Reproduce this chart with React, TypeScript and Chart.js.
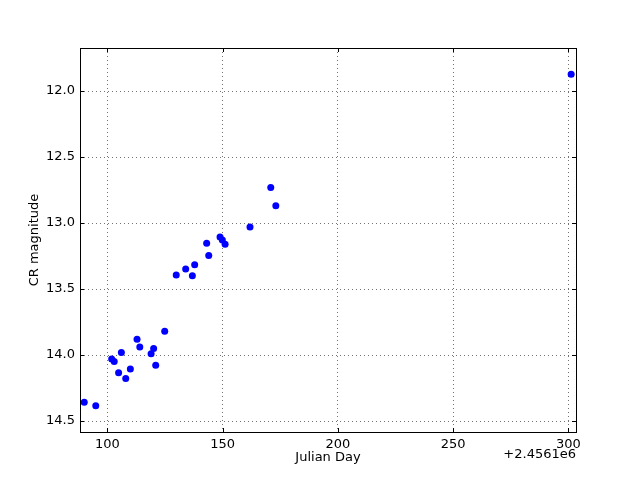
import React, { useEffect, useRef } from "react";
import { Chart, registerables } from "chart.js";

Chart.register(...registerables);

// Julian Day minus offset (2456100)
const jdOffsetLabel = "+2.4561e6";
const julianDay = [
  90.0, 95.0, 101.9, 103.0, 104.9, 106.1, 108.0, 110.0, 112.9, 114.1, 119.0, 120.1, 121.0, 124.9,
  129.9, 134.0, 136.9, 137.9, 143.1, 144.0, 148.9, 149.9, 151.1, 161.9, 170.9, 173.1, 301.2,
];
const crMagnitude = [
  14.358, 14.384, 14.03, 14.048, 14.134, 13.98, 14.177, 14.106, 13.88, 13.94, 13.99, 13.95, 14.078, 13.82,
  13.394, 13.348, 13.4, 13.316, 13.154, 13.245, 13.106, 13.129, 13.161, 13.03, 12.73, 12.869, 11.873,
];
const xTicks = [100, 150, 200, 250, 300];
const yTicks = [12.0, 12.5, 13.0, 13.5, 14.0, 14.5];

const FONT = "DejaVu Sans";

const framePlugin = {
  id: "mplFrame",
  afterDraw(chart: any) {
    const { ctx, chartArea } = chart;
    const { left, right, top, bottom } = chartArea;
    const xs = chart.scales.x;
    const ys = chart.scales.y;
    ctx.save();
    ctx.strokeStyle = "#000";
    ctx.lineWidth = 1;
    // inward ticks
    ctx.beginPath();
    for (const t of xTicks) {
      const px = Math.round(xs.getPixelForValue(t)) + 0.5;
      ctx.moveTo(px, bottom);
      ctx.lineTo(px, bottom - 4);
      ctx.moveTo(px, top);
      ctx.lineTo(px, top + 4);
    }
    for (const t of yTicks) {
      const py = Math.round(ys.getPixelForValue(t)) + 0.5;
      ctx.moveTo(left, py);
      ctx.lineTo(left + 4, py);
      ctx.moveTo(right, py);
      ctx.lineTo(right - 4, py);
    }
    ctx.stroke();
    ctx.strokeRect(Math.round(left) + 0.5, Math.round(top) + 0.5, Math.round(right - left), Math.round(bottom - top));
    // offset text
    ctx.fillStyle = "#000";
    ctx.font = `13px "${FONT}"`;
    ctx.textAlign = "right";
    ctx.textBaseline = "middle";
    ctx.fillText(jdOffsetLabel, right, bottom + 23);
    ctx.restore();
  },
};

export default function App() {
  const ref = useRef<HTMLCanvasElement | null>(null);
  useEffect(() => {
    document.body.style.margin = "0";
    const chart = new Chart(ref.current!, {
      type: "scatter",
      data: {
        datasets: [
          {
            data: julianDay.map((x, i) => ({ x, y: crMagnitude[i] })),
            backgroundColor: "#0000ff",
            borderColor: "#0000ff",
            borderWidth: 0,
            pointRadius: 3.5,
          },
        ],
      },
      options: {
        animation: false,
        responsive: false,
        devicePixelRatio: 1,
        layout: { padding: { top: 48, right: 64, left: 0, bottom: 0 } },
        plugins: { legend: { display: false }, tooltip: { enabled: false } },
        scales: {
          x: {
            type: "linear",
            min: 88.16,
            max: 303.3,
            afterBuildTicks: (s: any) => {
              s.ticks = xTicks.map((v) => ({ value: v }));
            },
            afterFit: (s: any) => {
              s.height = 48;
            },
            border: { display: false },
            grid: { color: "rgba(0,0,0,0.55)", lineWidth: 1, drawTicks: false, borderDash: [1, 3] } as any,
            ticks: { color: "#000", font: { family: FONT, size: 13 }, padding: 5, maxRotation: 0 },
            title: { display: true, text: "Julian Day", color: "#000", font: { family: FONT, size: 13 }, padding: { bottom: 15 } },
          },
          y: {
            type: "linear",
            reverse: true,
            min: 11.674,
            max: 14.583,
            afterBuildTicks: (s: any) => {
              s.ticks = yTicks.map((v) => ({ value: v }));
            },
            afterFit: (s: any) => {
              s.width = 80;
            },
            border: { display: false },
            grid: { color: "rgba(0,0,0,0.55)", lineWidth: 1, drawTicks: false } as any,
            ticks: {
              color: "#000",
              font: { family: FONT, size: 13 },
              padding: 5,
              callback: (v: any) => Number(v).toFixed(1),
            },
            title: { display: true, text: "CR magnitude", color: "#000", font: { family: FONT, size: 13 }, padding: { top: 27 } },
          },
        },
      } as any,
      plugins: [framePlugin],
    });
    // dotted grid
    (chart.options.scales as any).x.border = { display: false, dash: [1, 3] };
    (chart.options.scales as any).y.border = { display: false, dash: [1, 3] };
    (chart.options.scales as any).x.grid.tickBorderDash = [1, 3];
    chart.update();
    return () => chart.destroy();
  }, []);
  return (
    <div style={{ width: 640, height: 480 }}>
      <canvas ref={ref} width={640} height={480} />
    </div>
  );
}
